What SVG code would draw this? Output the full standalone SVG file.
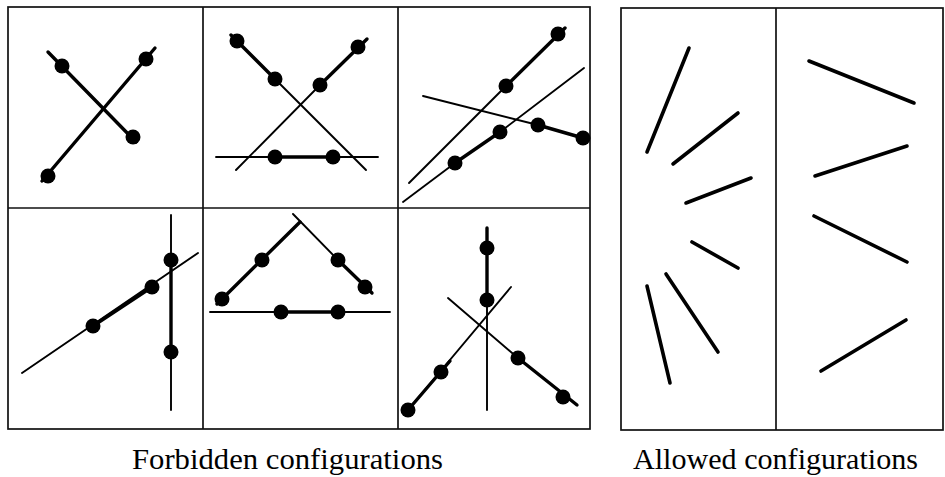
<svg xmlns="http://www.w3.org/2000/svg" width="945" height="477" viewBox="0 0 945 477">
<style>
.frame{fill:none;stroke:#111;stroke-width:1.7}
.thick{stroke:#000;stroke-width:3.4;stroke-linecap:round;fill:none}
.thin{stroke:#000;stroke-width:1.9;stroke-linecap:round;fill:none}
.seg{stroke:#000;stroke-width:3.6;stroke-linecap:round;fill:none}
.dot{fill:#000}
</style>
<rect width="945" height="477" fill="#fff"/>
<g id="frames">
<rect class="frame" x="8" y="7" width="582" height="422"/>
<line class="frame" x1="8" y1="208" x2="590" y2="208"/>
<line class="frame" x1="203" y1="7" x2="203" y2="429"/>
<line class="frame" x1="398" y1="7" x2="398" y2="429"/>
<rect class="frame" x="621" y="8" width="322" height="422"/>
<line class="frame" x1="776" y1="8" x2="776" y2="430"/>
</g>
<g id="connectors">
<g id="p1">
<line class="thick" x1="48" y1="52" x2="136" y2="142"/>
<line class="thick" x1="42" y1="181" x2="155" y2="48"/>
</g>
<g id="p2">
<line class="thick" x1="231" y1="35" x2="275" y2="79"/>
<line class="thin" x1="275" y1="79" x2="366" y2="170"/>
<line class="thick" x1="367" y1="39" x2="320" y2="85"/>
<line class="thin" x1="320" y1="85" x2="236" y2="170"/>
<line class="thin" x1="216" y1="157" x2="378" y2="157"/>
<line class="thick" x1="275" y1="157" x2="333" y2="157"/>
</g>
<g id="p3">
<line class="thick" x1="565" y1="28" x2="506" y2="86"/>
<line class="thin" x1="506" y1="86" x2="409" y2="183"/>
<line class="thin" x1="584" y1="68" x2="500" y2="132"/>
<line class="thick" x1="500" y1="132" x2="455" y2="163"/>
<line class="thin" x1="455" y1="163" x2="403" y2="202"/>
<line class="thin" x1="423" y1="96" x2="538" y2="125"/>
<line class="thick" x1="538" y1="125" x2="583" y2="138"/>
</g>
<g id="p4">
<line class="thin" x1="171" y1="215" x2="171" y2="410"/>
<line class="thick" x1="171" y1="260" x2="171" y2="352"/>
<line class="thin" x1="22" y1="373" x2="198" y2="253"/>
<line class="thick" x1="93" y1="326" x2="152" y2="287"/>
</g>
<g id="p5">
<line class="thick" x1="217" y1="304" x2="300" y2="222"/>
<line class="thin" x1="293" y1="214" x2="338" y2="260"/>
<line class="thick" x1="338" y1="260" x2="372" y2="293"/>
<line class="thin" x1="210" y1="312" x2="390" y2="312"/>
<line class="thick" x1="281" y1="312" x2="338" y2="312"/>
</g>
<g id="p6">
<line class="thin" x1="487" y1="228" x2="487" y2="410"/>
<line class="thick" x1="487" y1="228" x2="487" y2="300"/>
<line class="thin" x1="408" y1="410" x2="511" y2="287"/>
<line class="thick" x1="408" y1="410" x2="450" y2="361"/>
<line class="thin" x1="448" y1="298" x2="518" y2="358"/>
<line class="thick" x1="518" y1="358" x2="577" y2="405"/>
</g>
<g id="allowed">
<line class="seg" x1="689" y1="48" x2="647" y2="152"/>
<line class="seg" x1="738" y1="113" x2="673" y2="164"/>
<line class="seg" x1="751" y1="178" x2="686" y2="203"/>
<line class="seg" x1="692" y1="242" x2="738" y2="268"/>
<line class="seg" x1="666" y1="274" x2="718" y2="352"/>
<line class="seg" x1="647" y1="286" x2="670" y2="383"/>
<line class="seg" x1="809" y1="61" x2="914" y2="103"/>
<line class="seg" x1="907" y1="146" x2="815" y2="176"/>
<line class="seg" x1="814" y1="216" x2="907" y2="262"/>
<line class="seg" x1="906" y1="320" x2="821" y2="371"/>
</g>
</g>
<g id="dots">
<circle class="dot" cx="62" cy="66" r="7.5"/>
<circle class="dot" cx="133" cy="137" r="7.5"/>
<circle class="dot" cx="48" cy="176" r="7.5"/>
<circle class="dot" cx="146" cy="59" r="7.5"/>
<circle class="dot" cx="237" cy="41" r="7.5"/>
<circle class="dot" cx="275" cy="79" r="7.5"/>
<circle class="dot" cx="358" cy="47" r="7.5"/>
<circle class="dot" cx="320" cy="85" r="7.5"/>
<circle class="dot" cx="275" cy="157" r="7.5"/>
<circle class="dot" cx="333" cy="157" r="7.5"/>
<circle class="dot" cx="558" cy="34" r="7.5"/>
<circle class="dot" cx="506" cy="86" r="7.5"/>
<circle class="dot" cx="500" cy="132" r="7.5"/>
<circle class="dot" cx="455" cy="163" r="7.5"/>
<circle class="dot" cx="538" cy="125" r="7.5"/>
<circle class="dot" cx="583" cy="138" r="7.5"/>
<circle class="dot" cx="171" cy="260" r="7.5"/>
<circle class="dot" cx="171" cy="352" r="7.5"/>
<circle class="dot" cx="93" cy="326" r="7.5"/>
<circle class="dot" cx="152" cy="287" r="7.5"/>
<circle class="dot" cx="222" cy="299" r="7.5"/>
<circle class="dot" cx="262" cy="260" r="7.5"/>
<circle class="dot" cx="338" cy="260" r="7.5"/>
<circle class="dot" cx="365" cy="287" r="7.5"/>
<circle class="dot" cx="281" cy="312" r="7.5"/>
<circle class="dot" cx="338" cy="312" r="7.5"/>
<circle class="dot" cx="487" cy="248" r="7.5"/>
<circle class="dot" cx="487" cy="300" r="7.5"/>
<circle class="dot" cx="408" cy="410" r="7.5"/>
<circle class="dot" cx="441" cy="372" r="7.5"/>
<circle class="dot" cx="518" cy="358" r="7.5"/>
<circle class="dot" cx="563" cy="397" r="7.5"/>
</g>
<g id="labels" font-family="'Liberation Serif', 'DejaVu Serif', serif" font-size="29" fill="#000">
<text x="132" y="469" textLength="311" lengthAdjust="spacingAndGlyphs">Forbidden configurations</text>
<text x="633" y="469" textLength="285" lengthAdjust="spacingAndGlyphs">Allowed configurations</text>
</g>
</svg>
